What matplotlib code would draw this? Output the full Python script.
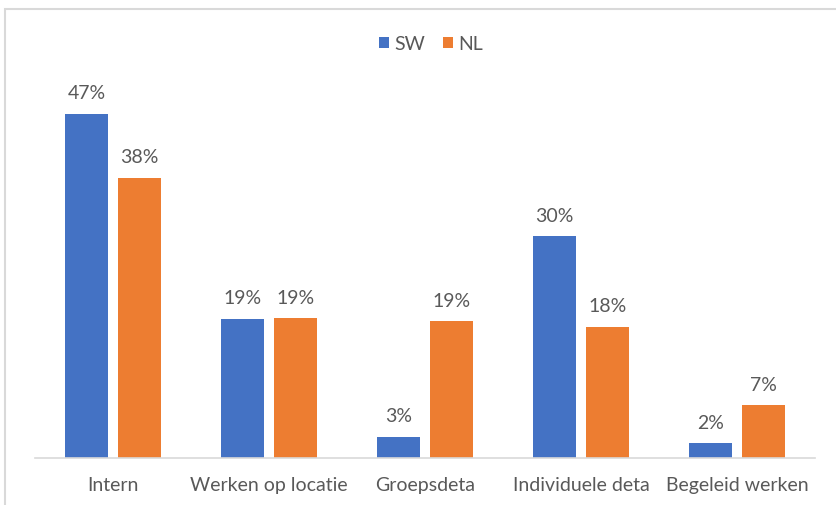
import matplotlib
matplotlib.use("Agg")
import matplotlib.pyplot as plt
import numpy as np
from matplotlib.patches import Rectangle

categories = ["Intern", "Werken op locatie", "Groepsdeta", "Individuele deta", "Begeleid werken"]
sw = [47.0, 19.0, 2.9, 30.3, 2.0]
nl = [38.3, 19.1, 18.7, 17.9, 7.2]
series = ["SW", "NL"]

BLUE = "#4472C4"
ORANGE = "#ED7D31"
TXT = "#595959"
GRID = "#D9D9D9"

plt.rcParams['font.family'] = ['Lato', 'DejaVu Sans']

fig = plt.figure(figsize=(8.36, 5.06), dpi=100)
fig.patches.append(Rectangle((5/836, -0.1), 2, 1.1 - 10/506, transform=fig.transFigure,
                             fill=False, edgecolor=GRID, linewidth=1.5, zorder=0))
ax = fig.add_axes([35/836, 1 - 459/506, 780/836, 366/506])

x = np.arange(len(categories))
w = 0.27
off = 0.17
b1 = ax.bar(x - off, sw, w, color=BLUE, label=series[0])
b2 = ax.bar(x + off, nl, w, color=ORANGE, label=series[1])
for bars, vals in ((b1, sw), (b2, nl)):
    for r, v in zip(bars, vals):
        ax.annotate(f"{round(v)}%", (r.get_x() + r.get_width()/2, v), xytext=(0, 9),
                    textcoords="offset points", ha="center", va="bottom",
                    fontsize=14, color=TXT)

ax.set_xlim(-0.5, len(categories) - 0.5)
ax.set_ylim(0, 50)
ax.set_yticks([])
ax.set_xticks(x)
ax.set_xticklabels(categories, fontsize=14, color=TXT)
ax.tick_params(axis='x', length=0, pad=13)
for s in ("top", "right", "left"):
    ax.spines[s].set_visible(False)
ax.spines["bottom"].set_color(GRID)
ax.spines["bottom"].set_linewidth(1.2)

leg = fig.legend(loc="center", bbox_to_anchor=(431/836, 1 - 45/506), ncol=2, frameon=False,
                 fontsize=14, handlelength=0.5, handleheight=0.5, handletextpad=0.3,
                 columnspacing=0.9, labelcolor=TXT)

fig.savefig("out.png", dpi=100)
